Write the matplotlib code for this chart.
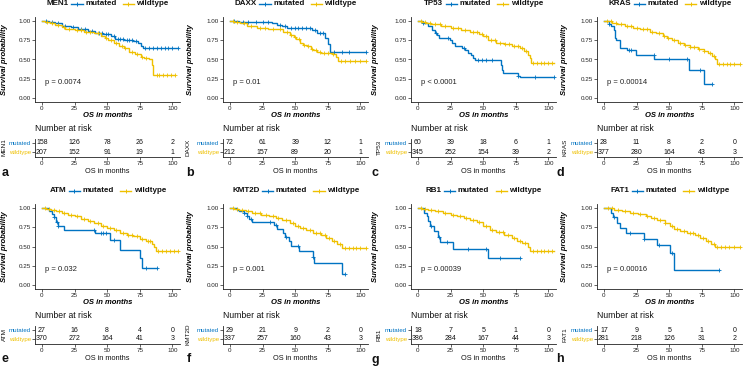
import numpy as np
import matplotlib
matplotlib.use("Agg")
import matplotlib.pyplot as plt
from matplotlib.lines import Line2D
from matplotlib.offsetbox import TextArea, DrawingArea, HPacker, AnchoredOffsetbox

plt.rcParams['font.family'] = ['Liberation Sans', 'DejaVu Sans']

W, H = 743, 367
BLUE = "#0073C2"
GOLD = "#EFC000"

genes = ["MEN1", "DAXX", "TP53", "KRAS", "ATM", "KMT2D", "RB1", "FAT1"]
letters = ["a", "b", "c", "d", "e", "f", "g", "h"]
pvals = ["p = 0.0074", "p = 0.01", "p < 0.0001", "p = 0.00014",
         "p = 0.032", "p = 0.001", "p = 0.00039", "p = 0.00016"]
risk_times = [0, 25, 50, 75, 100]

# ---- Kaplan-Meier step data (drop times, survival after drop, last time, censor times)
MEN1_mut_t = [5, 10, 15, 22, 28, 35, 41, 47, 53, 56, 63, 70, 74, 76, 77.5]
MEN1_mut_s = [0.985, 0.97, 0.94, 0.92, 0.89, 0.87, 0.85, 0.83, 0.80, 0.77, 0.755, 0.74, 0.72, 0.68, 0.645]
MEN1_mut_end = 104
MEN1_mut_c = [3, 8, 12, 18, 24, 30, 33, 38, 44, 46, 49, 51, 55, 58, 60, 62, 65, 67, 69, 72, 79, 82, 85, 88, 91, 94, 97, 100, 104]
MEN1_wt_t = [2, 6, 10, 15, 18, 25, 32, 40, 45, 48, 51, 55, 59, 63, 67, 71, 76, 78, 82, 84, 85.5]
MEN1_wt_s = [0.99, 0.97, 0.95, 0.92, 0.90, 0.88, 0.86, 0.84, 0.81, 0.78, 0.75, 0.71, 0.68, 0.65, 0.60, 0.57, 0.53, 0.515, 0.50, 0.43, 0.30]
MEN1_wt_end = 102
MEN1_wt_c = [4, 8, 12, 17, 21, 27, 30, 34, 37, 43, 49, 53, 57, 61, 64, 69, 73, 77, 80, 88, 90, 93, 96, 99, 102]

DAXX_mut_t = [7, 32, 36, 40, 44, 63, 67, 73, 75, 77]
DAXX_mut_s = [0.99, 0.975, 0.95, 0.93, 0.91, 0.88, 0.85, 0.78, 0.70, 0.60]
DAXX_mut_end = 104
DAXX_mut_c = [3, 10, 14, 20, 25, 29, 38, 42, 47, 50, 52, 55, 58, 61, 65, 69, 71, 80, 86, 91, 104]
DAXX_wt_t = [3, 8, 13, 21, 29, 36, 41, 46, 49, 51, 54, 56, 59, 62, 64, 67, 70, 78, 81, 83]
DAXX_wt_s = [0.99, 0.97, 0.93, 0.91, 0.90, 0.89, 0.86, 0.82, 0.79, 0.77, 0.72, 0.69, 0.67, 0.64, 0.62, 0.60, 0.585, 0.57, 0.53, 0.475]
DAXX_wt_end = 104
DAXX_wt_c = [2, 5, 11, 16, 23, 27, 33, 38, 44, 47, 50, 53, 57, 60, 63, 66, 69, 72, 75, 79, 85, 88, 92, 96, 100, 104]

TP53_mut_t = [4, 5.6, 7.6, 11, 12.7, 14.5, 16, 24.6, 26, 28.4, 33.5, 36, 38.6, 41, 42.4, 43.7, 63.5, 64.5, 65.5, 77, 78]
TP53_mut_s = [0.98, 0.97, 0.93, 0.88, 0.85, 0.82, 0.78, 0.75, 0.72, 0.68, 0.65, 0.62, 0.59, 0.56, 0.52, 0.49, 0.43, 0.37, 0.33, 0.29, 0.27]
TP53_mut_end = 104
TP53_mut_c = [4, 14, 23, 35, 46, 49, 52, 57, 77, 90, 104]
TP53_wt_t = [3, 6, 10, 18, 25, 33, 40, 47, 50, 54, 60, 66, 72, 78, 81, 84, 86, 87]
TP53_wt_s = [0.99, 0.98, 0.96, 0.93, 0.91, 0.88, 0.86, 0.83, 0.80, 0.75, 0.72, 0.70, 0.68, 0.65, 0.61, 0.56, 0.52, 0.46]
TP53_wt_end = 104
TP53_wt_c = [2, 5, 9, 13, 17, 21, 27, 31, 36, 42, 45, 49, 52, 56, 59, 63, 67, 70, 74, 77, 80, 83, 88, 91, 94, 97, 100, 103]

KRAS_mut_t = [4, 5, 7.6, 8.6, 9.4, 12, 17.7, 24.6, 38.5, 65, 76.5]
KRAS_mut_s = [0.96, 0.93, 0.88, 0.78, 0.75, 0.65, 0.62, 0.555, 0.50, 0.37, 0.185]
KRAS_mut_end = 82.5
KRAS_mut_c = [4, 19, 21, 38, 50, 64, 74, 82.5]
KRAS_wt_t = [1, 6, 10, 16, 22, 28, 35, 40, 45, 48, 52, 57, 61, 66, 72, 77, 80, 83, 85, 86.5]
KRAS_wt_s = [0.995, 0.98, 0.96, 0.93, 0.91, 0.89, 0.86, 0.84, 0.81, 0.78, 0.75, 0.72, 0.69, 0.66, 0.64, 0.61, 0.58, 0.54, 0.50, 0.445]
KRAS_wt_end = 104
KRAS_wt_c = [2, 5, 9, 13, 18, 21, 25, 30, 33, 37, 42, 46, 49, 54, 58, 62, 66, 69, 73, 77, 81, 84, 88, 91, 94, 97, 100, 104]

ATM_mut_t = [5, 8, 9.4, 10.7, 12, 17, 41, 52, 60, 75.5, 77]
ATM_mut_s = [0.96, 0.92, 0.88, 0.82, 0.76, 0.71, 0.67, 0.585, 0.46, 0.345, 0.225]
ATM_mut_end = 88
ATM_mut_c = [9.5, 11.5, 12.5, 40, 45, 47, 49, 55, 80, 88]
ATM_wt_t = [3, 7, 11, 15, 20, 25, 30, 35, 40, 45, 50, 55, 60, 65, 70, 75, 80, 84, 86, 87.5]
ATM_wt_s = [0.99, 0.98, 0.96, 0.93, 0.91, 0.89, 0.86, 0.83, 0.80, 0.77, 0.74, 0.71, 0.68, 0.65, 0.63, 0.60, 0.57, 0.53, 0.49, 0.445]
ATM_wt_end = 104
ATM_wt_c = [2, 5, 9, 13, 17, 22, 27, 32, 37, 43, 47, 52, 57, 62, 66, 69, 73, 77, 81, 83, 89, 92, 95, 98, 101, 104]

KMT2D_mut_t = [5, 7, 10.6, 12.7, 14.4, 17, 33.4, 36, 41, 42, 45, 47, 52.6, 63.3, 64.8, 85.6]
KMT2D_mut_s = [0.98, 0.96, 0.93, 0.89, 0.86, 0.82, 0.78, 0.73, 0.67, 0.62, 0.57, 0.51, 0.445, 0.37, 0.28, 0.14]
KMT2D_mut_end = 88
KMT2D_mut_c = [11, 13, 16, 31, 35, 43, 52, 64, 88]
KMT2D_wt_t = [3, 7, 12, 17, 24, 30, 35, 40, 46, 50, 54, 58, 64, 70, 74, 78, 82, 86]
KMT2D_wt_s = [0.99, 0.98, 0.96, 0.93, 0.91, 0.89, 0.87, 0.84, 0.81, 0.77, 0.74, 0.71, 0.68, 0.65, 0.61, 0.57, 0.53, 0.485]
KMT2D_wt_end = 104
KMT2D_wt_c = [2, 5, 9, 14, 19, 23, 28, 33, 37, 43, 48, 52, 56, 61, 66, 69, 73, 76, 80, 84, 88, 91, 94, 97, 100, 104]

RB1_mut_t = [4.5, 7, 8, 9, 12, 15, 17, 27, 53.5]
RB1_mut_s = [0.94, 0.89, 0.83, 0.76, 0.70, 0.62, 0.56, 0.47, 0.35]
RB1_mut_end = 78
RB1_mut_c = [10, 16, 22, 38, 52, 63, 78]
RB1_wt_t = [3, 8, 13, 19, 25, 30, 35, 40, 45, 50, 55, 60, 66, 72, 76, 80, 84, 86]
RB1_wt_s = [0.99, 0.98, 0.96, 0.93, 0.91, 0.89, 0.87, 0.85, 0.82, 0.77, 0.72, 0.69, 0.645, 0.61, 0.57, 0.54, 0.50, 0.44]
RB1_wt_end = 104
RB1_wt_c = [2, 5, 10, 15, 21, 27, 32, 37, 42, 47, 52, 57, 62, 65, 69, 74, 78, 82, 88, 91, 94, 97, 100, 103]

FAT1_mut_t = [5, 7, 10, 12, 17, 31, 41, 51, 54]
FAT1_mut_s = [0.94, 0.88, 0.80, 0.74, 0.67, 0.60, 0.52, 0.41, 0.20]
FAT1_mut_end = 88
FAT1_mut_c = [8, 20, 31, 42, 52, 88]
FAT1_wt_t = [2, 8, 14, 20, 26, 32, 36, 41, 47, 51, 54, 58, 64, 70, 74, 78, 82, 85]
FAT1_wt_s = [0.995, 0.98, 0.96, 0.94, 0.92, 0.90, 0.87, 0.84, 0.80, 0.77, 0.73, 0.70, 0.67, 0.65, 0.61, 0.57, 0.53, 0.495]
FAT1_wt_end = 104
FAT1_wt_c = [3, 6, 11, 16, 22, 28, 33, 38, 43, 47, 52, 56, 61, 66, 68, 72, 76, 80, 84, 87, 90, 93, 96, 100, 104]

# ---- numbers at risk at 0, 25, 50, 75, 100 months
MEN1_risk_mut = [158, 126, 78, 26, 2]
MEN1_risk_wt = [207, 152, 91, 19, 1]
DAXX_risk_mut = [72, 61, 39, 12, 1]
DAXX_risk_wt = [212, 157, 89, 20, 1]
TP53_risk_mut = [60, 39, 18, 6, 1]
TP53_risk_wt = [345, 252, 154, 39, 2]
KRAS_risk_mut = [28, 11, 8, 2, 0]
KRAS_risk_wt = [377, 280, 164, 43, 3]
ATM_risk_mut = [27, 16, 8, 4, 0]
ATM_risk_wt = [370, 272, 164, 41, 3]
KMT2D_risk_mut = [29, 21, 9, 2, 0]
KMT2D_risk_wt = [337, 257, 160, 43, 3]
RB1_risk_mut = [18, 7, 5, 1, 0]
RB1_risk_wt = [386, 284, 167, 44, 3]
FAT1_risk_mut = [17, 9, 5, 1, 0]
FAT1_risk_wt = [281, 218, 126, 31, 2]

G = globals()

# ---- layout (pixels)
col_left = [35.2, 223.2, 411.2, 597.2]
ylab_x = [5, 191, 376, 564]          # centre of "Survival probability"
glab_x = [4, 188.5, 379, 565]        # centre of gene name in risk table
let_x = [1.5, 186.5, 371.5, 556.5]
ax_w = 145.0
XLIM = (-5.2, 106.0)
row_off = [0, 187]

FS_TICK = 4.5
FS_TITLE = 5.5
FS_P = 5.5
FS_LEG = 5.8
FS_NAR = 6.2
FS_RISK = 5.0
FS_RISKLAB = 4.4
FS_LET = 9

fig = plt.figure(figsize=(W / 100, H / 100), dpi=100)


def fbox(left, top, width, height):
    return [left / W, 1 - (top + height) / H, width / W, height / H]


def style_axes(ax):
    for s in ["top", "right"]:
        ax.spines[s].set_visible(False)
    for s in ["left", "bottom"]:
        ax.spines[s].set_linewidth(0.6)
        ax.spines[s].set_color("#222222")
    ax.tick_params(length=2, width=0.5, pad=1, labelsize=FS_TICK, colors="#222222")


def km_curve(ax, t, s, end, cens, color):
    tt = [0] + list(t) + [end]
    ss = [1.0] + list(s) + [s[-1]]
    ax.step(tt, ss, where="post", color=color, lw=1.0, solid_joinstyle="miter")
    ct = np.asarray(cens, dtype=float)
    idx = np.searchsorted(np.asarray(tt), ct, side="right") - 1
    idx = np.clip(idx, 0, len(ss) - 1)
    cs = np.asarray(ss)[idx]
    ax.plot(ct, cs, ls="none", marker="+", ms=3.2, mew=0.6, color=color)


for i, g in enumerate(genes):
    r, c = divmod(i, 4)
    yo = row_off[r]
    left = col_left[c]

    # --- KM panel
    km_top, km_bot = 17.15 + yo, 101.85 + yo
    ax = fig.add_axes(fbox(left, km_top, ax_w, km_bot - km_top))
    style_axes(ax)
    km_curve(ax, G[g + "_mut_t"], G[g + "_mut_s"], G[g + "_mut_end"], G[g + "_mut_c"], BLUE)
    km_curve(ax, G[g + "_wt_t"], G[g + "_wt_s"], G[g + "_wt_end"], G[g + "_wt_c"], GOLD)
    ax.set_xlim(*XLIM)
    ax.set_ylim(-0.05, 1.05)
    ax.set_xticks(risk_times)
    ax.set_yticks([0, 0.25, 0.5, 0.75, 1.0])
    ax.set_yticklabels(["0.00", "0.25", "0.50", "0.75", "1.00"])
    ax.text(2, 0.2, pvals[i], fontsize=FS_P, ha="left", va="center", color="#222222")
    ax.set_xlabel("OS in months", fontsize=FS_TITLE, fontweight="bold", fontstyle="italic", va="center")
    ax.xaxis.set_label_coords(0.5, -(115 + yo - km_bot) / (km_bot - km_top))
    ax.set_ylabel("Survival probability", fontsize=FS_TITLE, fontweight="bold", fontstyle="italic", va="center")
    ax.yaxis.set_label_coords((ylab_x[c] - left) / ax_w, 0.5)

    # --- legend
    items = [TextArea(g, textprops=dict(fontsize=FS_LEG, fontweight="bold", color="#111111"))]
    for lab, col in [("mutated", BLUE), ("wildtype", GOLD)]:
        da = DrawingArea(9, 5, 0, 0)
        da.add_artist(Line2D([0.5, 8.5], [2.5, 2.5], color=col, lw=1.0))
        da.add_artist(Line2D([4.5], [2.5], marker="+", color=col, ms=3.5, mew=0.7))
        items += [da, TextArea(lab, textprops=dict(fontsize=FS_LEG, fontweight="bold", color="#111111"))]
        if lab == "mutated":
            items.append(DrawingArea(1.5, 5, 0, 0))
    box = HPacker(children=items, align="center", pad=0, sep=1.3)
    anch = AnchoredOffsetbox(loc="center", child=box, pad=0, borderpad=0, frameon=False,
                             bbox_to_anchor=((left + ax_w / 2) / W, 1 - (3.6 + yo) / H),
                             bbox_transform=fig.transFigure)
    fig.add_artist(anch)

    # --- risk table
    t_top, t_bot = 138.5 + yo, 156.5 + yo
    axt = fig.add_axes(fbox(left, t_top, ax_w, t_bot - t_top))
    style_axes(axt)
    axt.set_xlim(*XLIM)
    axt.set_ylim(-0.5, 1.5)
    axt.set_xticks(risk_times)
    axt.set_yticks([1, 0])
    axt.set_yticklabels(["mutated", "wildtype"], fontsize=FS_RISKLAB)
    for lbl, col in zip(axt.get_yticklabels(), [BLUE, GOLD]):
        lbl.set_color(col)
    for tx, nm, nw in zip(risk_times, G[g + "_risk_mut"], G[g + "_risk_wt"]):
        axt.text(tx, 1, str(nm), ha="center", va="center", fontsize=FS_RISK, color="#111111")
        axt.text(tx, 0, str(nw), ha="center", va="center", fontsize=FS_RISK, color="#111111")
    axt.text(0.0, (t_top - (128 + yo)) / (t_bot - t_top) + 1, "Number at risk", transform=axt.transAxes,
             ha="left", va="center", fontsize=FS_NAR, color="#111111")
    axt.set_xlabel("OS in months", fontsize=5.3, va="center", color="#111111")
    axt.xaxis.set_label_coords(0.5, -(172 + yo - t_bot) / (t_bot - t_top))
    axt.set_ylabel(g, fontsize=4.6, va="center", color="#111111")
    axt.yaxis.set_label_coords((glab_x[c] - left) / ax_w, 0.5)

    # --- panel letter
    fig.text(let_x[c] / W, 1 - (172.5 + yo) / H, letters[i], fontsize=FS_LET,
             fontweight="bold", ha="left", va="center", color="#111111")

fig.savefig("out.png", dpi=100)
